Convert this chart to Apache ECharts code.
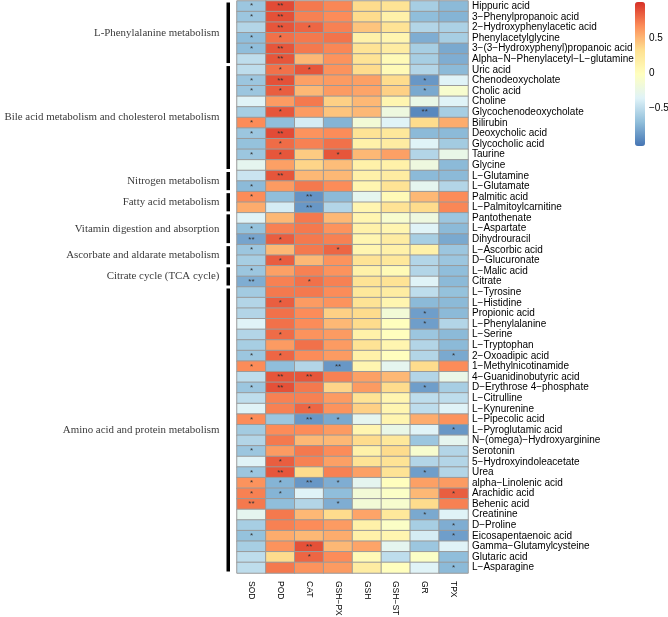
<!DOCTYPE html>
<html>
<head>
<meta charset="utf-8">
<script src="https://cdn.jsdelivr.net/npm/echarts@6/dist/echarts.min.js"></script>
<style>
html,body{margin:0;padding:0;background:#fff;}
#chart{width:668px;height:617px;}
</style>
</head>
<body>
<div id="chart"></div>
<script>
const rowNames = [
  'Hippuric acid','3\u2212Phenylpropanoic acid','2\u2212Hydroxyphenylacetic acid','Phenylacetylglycine',
  '3\u2212(3\u2212Hydroxyphenyl)propanoic acid','Alpha\u2212N\u2212Phenylacetyl\u2212L\u2212glutamine','Uric acid',
  'Chenodeoxycholate','Cholic acid','Choline','Glycochenodeoxycholate','Bilirubin','Deoxycholic acid',
  'Glycocholic acid','Taurine','Glycine','L\u2212Glutamine','L\u2212Glutamate','Palmitic acid',
  'L\u2212Palmitoylcarnitine','Pantothenate','L\u2212Aspartate','Dihydrouracil','L\u2212Ascorbic acid',
  'D\u2212Glucuronate','L\u2212Malic acid','Citrate','L\u2212Tyrosine','L\u2212Histidine','Propionic acid',
  'L\u2212Phenylalanine','L\u2212Serine','L\u2212Tryptophan','2\u2212Oxoadipic acid','1\u2212Methylnicotinamide',
  '4\u2212Guanidinobutyric acid','D\u2212Erythrose 4\u2212phosphate','L\u2212Citrulline','L\u2212Kynurenine',
  'L\u2212Pipecolic acid','L\u2212Pyroglutamic acid','N\u2212(omega)\u2212Hydroxyarginine','Serotonin',
  '5\u2212Hydroxyindoleacetate','Urea','alpha\u2212Linolenic acid','Arachidic acid','Behenic acid',
  'Creatinine','D\u2212Proline','Eicosapentaenoic acid','Gamma\u2212Glutamylcysteine','Glutaric acid',
  'L\u2212Asparagine'
];
const colNames = ['SOD','POD','CAT','GSH\u2212PX','GSH','GSH\u2212ST','GR','TPX'];

const sod = [-0.65,-0.65,-0.55,-0.70,-0.70,-0.50,-0.50,-0.65,-0.65,-0.35,-0.60,0.68,-0.65,-0.68,-0.65,-0.30,-0.45,-0.72,0.68,0.55,-0.35,-0.68,-0.82,-0.65,-0.60,-0.65,-0.78,-0.62,-0.55,-0.55,-0.35,-0.55,-0.60,-0.65,0.68,-0.50,-0.65,-0.50,-0.35,0.68,-0.62,-0.55,-0.65,-0.35,-0.65,0.65,0.72,0.75,-0.30,-0.60,-0.68,-0.60,-0.50,-0.50];
const pod = [0.92,0.90,0.88,0.78,0.88,0.88,0.78,0.90,0.85,0.62,0.88,-0.70,0.92,0.80,0.88,0.60,0.88,0.62,-0.70,-0.40,0.50,0.72,0.85,0.50,0.85,0.60,0.72,0.75,0.85,0.78,0.78,0.80,0.62,0.82,-0.70,0.88,0.90,0.72,0.72,-0.65,0.68,0.75,0.62,0.85,0.88,-0.75,-0.75,-0.70,0.75,0.72,0.55,0.65,0.35,0.75];
const cat = [0.75,0.72,0.82,0.75,0.75,0.50,0.88,0.60,0.50,0.75,0.62,-0.40,0.65,0.72,0.42,0.38,0.50,0.75,-0.90,-0.88,0.75,0.75,0.75,0.75,0.50,0.72,0.78,0.75,0.62,0.68,0.68,0.65,0.78,0.68,-0.55,0.88,0.75,0.72,0.82,-0.88,0.68,0.50,0.75,0.72,0.35,-0.88,-0.35,-0.55,0.50,0.68,0.50,0.90,0.82,0.65];
const gshpx = [0.70,0.68,0.72,0.77,0.70,0.65,0.65,0.62,0.62,0.40,0.45,-0.75,0.68,0.78,0.88,0.48,0.50,0.68,-0.72,-0.55,0.50,0.65,0.72,0.82,0.65,0.65,0.72,0.68,0.65,0.40,0.50,0.62,0.62,0.62,-0.88,0.72,0.38,0.62,0.65,-0.80,0.62,0.50,0.68,0.60,0.72,-0.78,-0.70,-0.78,0.35,0.62,0.55,0.50,0.68,0.62];
const gsh = [0.35,0.35,0.45,0.15,0.30,0.30,0.35,0.60,0.58,0.50,0.50,-0.15,0.30,0.15,0.50,0.15,0.15,0.10,-0.30,0.10,0.10,0.15,0.10,0.10,0.30,0.15,0.30,0.25,0.30,0.35,0.35,0.15,0.30,0.15,0.10,0.60,0.62,0.30,0.40,-0.30,0.10,0.35,0.15,0.30,0.60,-0.30,-0.15,-0.15,0.58,0.15,0.15,0.58,0.05,0.20];
const gshst = [0.30,0.15,0.30,0.10,0.20,0.05,0.05,0.35,0.40,0.10,-0.20,-0.35,0.25,0.20,0.60,0.15,0.20,0.30,0.05,0.30,-0.10,0.10,0.20,0.15,0.25,0.05,0.30,0.20,0.10,-0.15,0.00,0.00,0.10,0.00,-0.30,0.50,0.35,0.10,0.10,0.10,-0.25,0.25,0.35,0.30,0.30,0.00,-0.05,-0.10,0.25,-0.05,0.10,-0.30,-0.50,0.00];
const gr = [-0.60,-0.70,-0.55,-0.78,-0.60,-0.60,-0.55,-0.88,-0.80,-0.25,-0.95,0.35,-0.72,-0.35,-0.55,-0.20,-0.72,-0.30,0.50,0.35,-0.20,-0.35,-0.60,0.15,-0.55,-0.55,-0.35,-0.50,-0.72,-0.85,-0.85,-0.65,-0.55,-0.55,0.35,-0.55,-0.85,-0.50,-0.50,0.55,-0.35,-0.65,-0.10,-0.55,-0.85,0.60,0.50,0.35,-0.80,-0.60,-0.40,-0.65,-0.05,-0.35];
const tpx = [-0.72,-0.75,-0.58,-0.60,-0.80,-0.78,-0.72,-0.35,-0.10,-0.35,-0.60,0.55,-0.72,-0.62,-0.25,-0.72,-0.72,-0.55,0.68,0.70,-0.65,-0.72,-0.80,-0.65,-0.65,-0.70,-0.72,-0.68,-0.72,-0.72,-0.55,-0.72,-0.72,-0.80,0.68,-0.25,-0.60,-0.50,-0.35,0.65,-0.88,-0.30,-0.55,-0.55,-0.55,0.62,0.85,0.72,-0.35,-0.78,-0.85,-0.35,-0.70,-0.72];

// significance marks: [rowIndex, colIndex, mark]
const sigMarks = [
  [0,0,'*'],[0,1,'**'],[1,0,'*'],[1,1,'**'],[2,1,'**'],[2,2,'*'],[3,0,'*'],[3,1,'*'],
  [4,0,'*'],[4,1,'**'],[5,1,'**'],[6,1,'*'],[6,2,'*'],[7,0,'*'],[7,1,'**'],[7,6,'*'],
  [8,0,'*'],[8,1,'*'],[8,6,'*'],[10,1,'*'],[10,6,'**'],[11,0,'*'],[12,0,'*'],[12,1,'**'],
  [13,1,'*'],[14,0,'*'],[14,1,'*'],[14,3,'*'],[16,1,'**'],[17,0,'*'],[18,0,'*'],[18,2,'**'],
  [19,2,'**'],[21,0,'*'],[22,0,'**'],[22,1,'*'],[23,0,'*'],[23,3,'*'],[24,1,'*'],[25,0,'*'],
  [26,0,'**'],[26,2,'*'],[28,1,'*'],[29,6,'*'],[30,6,'*'],[31,1,'*'],[33,0,'*'],[33,1,'*'],
  [33,7,'*'],[34,0,'*'],[34,3,'**'],[35,1,'**'],[35,2,'**'],[36,0,'*'],[36,1,'**'],[36,6,'*'],
  [38,2,'*'],[39,0,'*'],[39,2,'**'],[39,3,'*'],[40,7,'*'],[42,0,'*'],[43,1,'*'],[44,0,'*'],
  [44,1,'**'],[44,6,'*'],[45,0,'*'],[45,1,'*'],[45,2,'**'],[45,3,'*'],[46,0,'*'],[46,1,'*'],
  [46,7,'*'],[47,0,'**'],[47,3,'*'],[48,6,'*'],[49,7,'*'],[50,0,'*'],[50,7,'*'],[51,2,'**'],
  [52,2,'*'],[53,7,'*']
];

const groupNames = ['L-Phenylalanine metabolism','Bile acid metabolism and cholesterol metabolism',
  'Nitrogen metabolism','Fatty acid metabolism','Vitamin digestion and absorption',
  'Ascorbate and aldarate metabolism','Citrate cycle (TCA cycle)','Amino acid and protein metabolism'];
const groupFirstRow = [0,6,16,18,20,23,25,27];
const groupLastRow  = [5,15,17,19,22,24,26,53];

const colorTicks = [-0.5, 0, 0.5];
const colorTickLabels = ['\u22120.5', '0', '0.5'];
const scaleMin = -1.04, scaleMax = 1.02;
const palette = ['#4575B4','#91BFDB','#E0F3F8','#FFFFBF','#FEE090','#FC8D59','#D73027'];

const columns = [sod, pod, cat, gshpx, gsh, gshst, gr, tpx];
const markMap = {};
sigMarks.forEach(m => { markMap[m[0] + '_' + m[1]] = m[2]; });
const heatData = [];
columns.forEach((col, ci) => {
  col.forEach((v, ri) => { heatData.push([ci, ri, v]); });
});
const groupData = groupNames.map((n, i) => ({ value: [0, groupFirstRow[i], groupLastRow[i]], name: n }));

const chart = echarts.init(document.getElementById('chart'), null, { renderer: 'canvas' });
chart.setOption({
  animation: false,
  backgroundColor: '#fff',
  grid: [
    { left: 237, top: 1, width: 231, height: 572, containLabel: false, outerBoundsMode: 'none' },
    { left: 635, top: 2, width: 10, height: 144, containLabel: false, outerBoundsMode: 'none' }
  ],
  xAxis: [
    { type: 'category', gridIndex: 0, data: colNames, position: 'bottom',
      axisLine: { show: false }, axisTick: { show: false }, splitLine: { show: false },
      axisLabel: { interval: 0, rotate: -90, margin: 8, fontSize: 8.5, color: '#000', fontFamily: 'Liberation Sans' } },
    { type: 'value', gridIndex: 1, show: false, min: 0, max: 1 }
  ],
  yAxis: [
    { type: 'category', gridIndex: 0, data: rowNames, inverse: true, position: 'right',
      axisLine: { show: false }, axisTick: { show: false }, splitLine: { show: false },
      axisLabel: { interval: 0, margin: 4, fontSize: 10, color: '#000', fontFamily: 'Liberation Sans' } },
    { type: 'value', gridIndex: 1, position: 'right', min: scaleMin, max: scaleMax,
      axisLine: { show: false }, axisTick: { show: false }, splitLine: { show: false },
      axisLabel: { margin: 4, fontSize: 10, color: '#000', fontFamily: 'Liberation Sans',
        customValues: colorTicks,
        formatter: v => { const i = colorTicks.findIndex(t => Math.abs(t - v) < 1e-6); return i >= 0 ? colorTickLabels[i] : ''; } } }
  ],
  visualMap: {
    type: 'continuous', seriesIndex: 0, min: scaleMin, max: scaleMax,
    calculable: false, hoverLink: false, show: true, orient: 'vertical',
    left: 635, top: 2, itemWidth: 10, itemHeight: 144, padding: 0, text: null,
    inRange: { color: palette }
  },
  series: [
    {
      type: 'heatmap', xAxisIndex: 0, yAxisIndex: 0, data: heatData,
      itemStyle: { borderColor: '#9a9a9a', borderWidth: 1 },
      label: { show: true, fontSize: 8, color: '#333', fontFamily: 'Liberation Sans',
        formatter: p => markMap[p.value[1] + '_' + p.value[0]] || '' },
      emphasis: { disabled: true }
    },
    {
      type: 'custom', xAxisIndex: 0, yAxisIndex: 0, clip: false, silent: true,
      data: groupData,
      encode: { x: 0, y: [1, 2] },
      renderItem: (params, api) => {
        const a = api.coord([0, api.value(1)]);
        const b = api.coord([0, api.value(2)]);
        const sz = api.size([1, 1]);
        const top = a[1] - sz[1] / 2 + 1.5;
        const bottom = b[1] + sz[1] / 2 - 1.5;
        const xBar = a[0] - sz[0] / 2 - 10.5;
        return {
          type: 'group',
          children: [
            { type: 'rect', shape: { x: xBar, y: top, width: 3.5, height: bottom - top }, style: { fill: '#000' } },
            { type: 'text', style: { x: xBar - 7, y: (top + bottom) / 2, text: groupNames[params.dataIndex],
              align: 'right', verticalAlign: 'middle', fill: '#3a3a3a', font: '10.9px "Liberation Serif"' } }
          ]
        };
      }
    },
    { type: 'scatter', xAxisIndex: 1, yAxisIndex: 1, data: [], silent: true }
  ]
});
</script>
</body>
</html>
